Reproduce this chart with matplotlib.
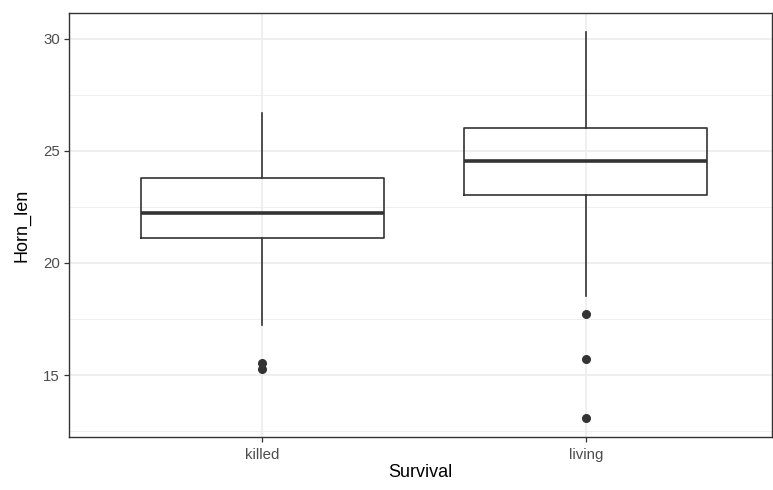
import matplotlib
matplotlib.use("Agg")
import matplotlib.pyplot as plt

plt.rcParams['font.family'] = ['Liberation Sans', 'DejaVu Sans']

# five-number summaries per group plus outliers
groups = ["killed", "living"]
whisker_low = [17.23, 18.53]
q1 = [21.09, 23.02]
median = [22.24, 24.53]
q3 = [23.79, 26.0]
whisker_high = [26.7, 30.28]
outliers = [[15.53, 15.27], [17.71, 15.71, 13.1]]

stats = []
for i, g in enumerate(groups):
    stats.append(dict(label=g, whislo=whisker_low[i], q1=q1[i], med=median[i],
                      q3=q3[i], whishi=whisker_high[i], fliers=outliers[i]))

fig = plt.figure(figsize=(7.73, 4.90), dpi=100)
ax = fig.add_axes([69/773, 53/490, 703/773, 424/490])

dark = "#333333"
ax.bxp(stats, positions=[1, 2], widths=0.75, showcaps=False,
       boxprops=dict(color=dark, linewidth=1.2),
       whiskerprops=dict(color=dark, linewidth=1.2),
       medianprops=dict(color=dark, linewidth=2.6, solid_capstyle='butt'),
       flierprops=dict(marker='o', markerfacecolor=dark, markeredgecolor=dark,
                       markersize=5.5))

ax.set_xlim(0.402, 2.576)
ax.set_ylim(12.24, 31.14)
ax.set_yticks([15, 20, 25, 30])
ax.set_yticks([12.5, 17.5, 22.5, 27.5], minor=True)
ax.set_xticks([1, 2])
ax.set_xticklabels(groups)

ax.grid(True, which='major', color='#ebebeb', linewidth=1.1)
ax.grid(True, which='minor', axis='y', color='#ebebeb', linewidth=0.55)
ax.set_axisbelow(True)
ax.tick_params(which='minor', length=0)
ax.tick_params(which='major', length=3.5, width=0.9, color=dark,
               labelcolor='#4d4d4d', labelsize=10.8)
ax.tick_params(axis='x', pad=4.5)
ax.tick_params(axis='y', pad=3)
for s in ax.spines.values():
    s.set_color(dark)
    s.set_linewidth(1.0)

ax.set_xlabel("Survival", fontsize=13, labelpad=1)
ax.set_ylabel("Horn_len", fontsize=13, labelpad=9)

fig.savefig("out.png", dpi=100)
